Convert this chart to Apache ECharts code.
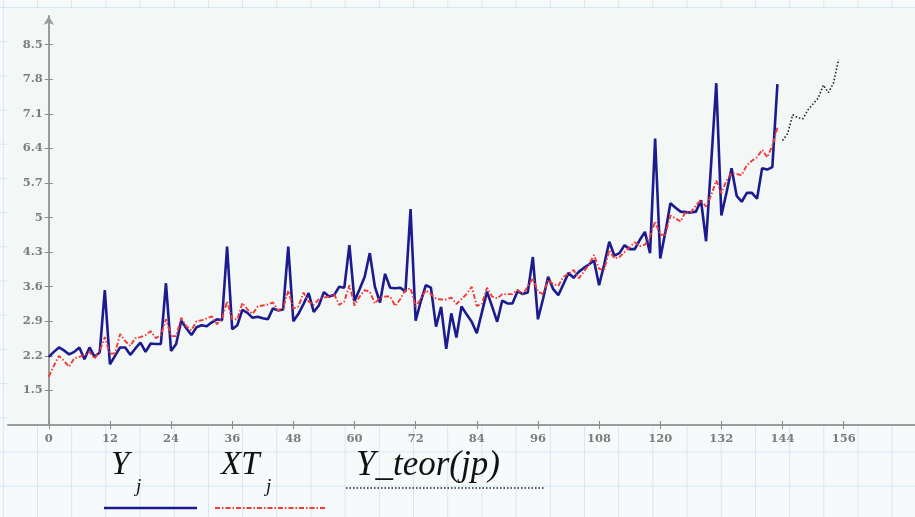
<!DOCTYPE html>
<html><head><meta charset="utf-8">
<script src="https://cdn.jsdelivr.net/npm/echarts@6/dist/echarts.min.js"></script>
<style>
html,body{margin:0;padding:0;width:915px;height:517px;overflow:hidden;}
body{background-color:#f7fafb;
background-image:linear-gradient(to right,#d5e6f4 1px,transparent 1px),linear-gradient(to bottom,#d5e6f4 1px,transparent 1px);
background-size:34.2px 34.2px;background-position:2.8px 7px;}
#plotbg{position:absolute;left:7px;top:8px;width:908px;height:417px;background:#f3f7f5;}
#chart{position:absolute;left:0;top:0;width:915px;height:517px;}
</style></head>
<body>
<div id="plotbg"></div>
<div id="chart"></div>
<script>
// Observed series Y_j, j = 0..143
const Y = [
 2.18,2.28,2.37,2.31,2.23,2.28,2.37,2.13,2.37,2.18,2.27,3.53,
 2.03,2.20,2.37,2.37,2.22,2.35,2.47,2.28,2.45,2.44,2.44,3.67,
 2.30,2.44,2.91,2.76,2.62,2.78,2.82,2.80,2.88,2.94,2.92,4.41,
 2.74,2.82,3.13,3.07,2.97,2.99,2.96,2.94,3.16,3.12,3.14,4.41,
 2.90,3.05,3.25,3.47,3.09,3.22,3.49,3.40,3.43,3.60,3.58,4.44,
 3.31,3.55,3.80,4.28,3.60,3.28,3.86,3.58,3.57,3.58,3.50,5.17,
 2.91,3.30,3.63,3.58,2.79,3.19,2.34,3.06,2.57,3.20,3.04,2.89,
 2.66,3.08,3.50,3.20,2.89,3.32,3.26,3.26,3.51,3.45,3.48,4.20,
 2.94,3.35,3.80,3.55,3.43,3.65,3.88,3.78,3.90,3.98,4.05,4.13,
 3.63,4.05,4.51,4.23,4.28,4.44,4.36,4.36,4.55,4.71,4.28,6.60,
 4.17,4.70,5.29,5.20,5.12,5.11,5.10,5.12,5.35,4.52,6.10,7.72,
 5.04,5.50,6.00,5.44,5.32,5.50,5.50,5.38,6.00,5.97,6.02,7.70
];
// Fitted series XT_j, j = 0..143
const XT = [
 1.78,2.00,2.20,2.10,1.98,2.15,2.18,2.22,2.28,2.14,2.30,2.58,
 2.24,2.25,2.64,2.50,2.40,2.56,2.58,2.62,2.70,2.56,2.62,2.94,
 2.60,2.60,2.97,2.80,2.72,2.90,2.92,2.96,3.00,2.84,2.96,3.30,
 2.94,2.94,3.27,3.14,3.05,3.20,3.22,3.24,3.28,3.12,3.16,3.52,
 3.16,3.20,3.48,3.30,3.23,3.35,3.38,3.40,3.45,3.23,3.30,3.63,
 3.22,3.40,3.53,3.50,3.26,3.38,3.40,3.40,3.21,3.35,3.53,3.57,
 3.20,3.35,3.53,3.45,3.36,3.34,3.34,3.38,3.25,3.35,3.45,3.60,
 3.21,3.25,3.58,3.40,3.36,3.45,3.45,3.45,3.54,3.45,3.60,3.77,
 3.50,3.45,3.74,3.65,3.62,3.80,3.86,3.94,3.77,3.90,4.05,4.24,
 3.96,3.94,4.34,4.17,4.20,4.30,4.40,4.50,4.42,4.45,4.62,4.92,
 4.65,4.65,5.04,4.98,4.92,5.12,5.10,5.25,5.35,5.22,5.45,5.75,
 5.49,5.75,5.90,5.88,5.86,6.06,6.15,6.22,6.37,6.22,6.45,6.82
];
// Forecast Y_teor(jp), jp = 144..155
const teorStart = 144;
const Yteor = [6.56,6.70,7.08,7.02,7.00,7.18,7.30,7.42,7.68,7.53,7.72,8.20];

const xTicks = [0,12,24,36,48,60,72,84,96,108,120,132,144,156];
const yTicks = [1.5,2.2,2.9,3.6,4.3,5,5.7,6.4,7.1,7.8,8.5];

const X_MIN = -8, X_MAX = 170, GRID_LEFT = 8, GRID_W = 907;
const labelFont = {color:'#7c7c7c', fontFamily:'DejaVu Serif', fontWeight:'bold', fontSize:11.5};
const legendFont = '"Liberation Serif", "DejaVu Serif", serif';

const chart = echarts.init(document.getElementById('chart'));
chart.setOption({
  animation:false,
  backgroundColor:'transparent',
  grid:{left:GRID_LEFT,width:GRID_W,top:16,bottom:92,containLabel:false,outerBoundsMode:'none'},
  xAxis:[
    {type:'value',min:X_MIN,max:X_MAX,position:'bottom',
     axisLine:{onZero:false,lineStyle:{color:'#9c9c9c',width:2}},
     axisTick:{customValues:xTicks,length:4,lineStyle:{color:'#8a8a8a'}},
     axisLabel:Object.assign({customValues:xTicks,margin:8},labelFont),
     splitLine:{show:false}},
    {type:'value',min:X_MIN,max:X_MAX,position:'bottom',
     axisLine:{show:false,onZero:false},
     axisTick:{inside:true,customValues:xTicks,length:4,lineStyle:{color:'#8a8a8a'}},
     axisLabel:{show:false},splitLine:{show:false}}
  ],
  yAxis:[
    {type:'value',min:0.8,max:9.08,position:'left',
     offset:X_MIN*GRID_W/(X_MAX-X_MIN),
     axisLine:{show:true,onZero:false,symbol:['none','arrow'],symbolSize:[8,9],lineStyle:{color:'#9c9c9c',width:2}},
     axisTick:{show:true,customValues:yTicks,length:4,lineStyle:{color:'#8a8a8a'}},
     axisLabel:Object.assign({customValues:yTicks,margin:6},labelFont),
     splitLine:{show:false}},
    {type:'value',min:0.8,max:9.08,position:'left',
     offset:X_MIN*GRID_W/(X_MAX-X_MIN),
     axisLine:{show:false,onZero:false},
     axisTick:{show:true,inside:true,customValues:yTicks,length:4,lineStyle:{color:'#8a8a8a'}},
     axisLabel:{show:false},splitLine:{show:false}}
  ],
  series:[
    {name:'Y_j',type:'line',xAxisIndex:0,yAxisIndex:0,symbol:'none',
     data:Y.map((v,j)=>[j,v]),
     lineStyle:{color:'#1b1b8f',width:2.6},z:3},
    {name:'XT_j',type:'line',xAxisIndex:0,yAxisIndex:0,symbol:'none',
     data:XT.map((v,j)=>[j,v]),
     lineStyle:{color:'#f23a3a',width:1.9,type:[5,2,1.5,2]},z:4},
    {name:'Y_teor(jp)',type:'line',xAxisIndex:0,yAxisIndex:0,symbol:'none',
     data:Yteor.map((v,i)=>[teorStart+i,v]),
     lineStyle:{color:'#222',width:1.6,type:[1.5,2]},z:4}
  ],
  graphic:[
    {type:'text',left:111,top:449,style:{text:'Y',font:'italic 33px '+legendFont,fill:'#111'}},
    {type:'text',left:136,top:477,style:{text:'j',font:'italic 19px '+legendFont,fill:'#111'}},
    {type:'line',shape:{x1:104,y1:508,x2:197,y2:508},style:{stroke:'#1b1b8f',lineWidth:2.6}},
    {type:'text',left:221,top:449,style:{text:'XT',font:'italic 33px '+legendFont,fill:'#111'}},
    {type:'text',left:266,top:477,style:{text:'j',font:'italic 19px '+legendFont,fill:'#111'}},
    {type:'line',shape:{x1:215,y1:508,x2:327,y2:508},style:{stroke:'#f23a3a',lineWidth:1.9,lineDash:[5,2,1.5,2]}},
    {type:'text',left:356,top:448,style:{text:'Y_teor(jp)',font:'italic 35px '+legendFont,fill:'#111'}},
    {type:'line',shape:{x1:346,y1:488,x2:545,y2:488},style:{stroke:'#222',lineWidth:1.5,lineDash:[1.5,2]}}
  ]
});
</script>
</body></html>
